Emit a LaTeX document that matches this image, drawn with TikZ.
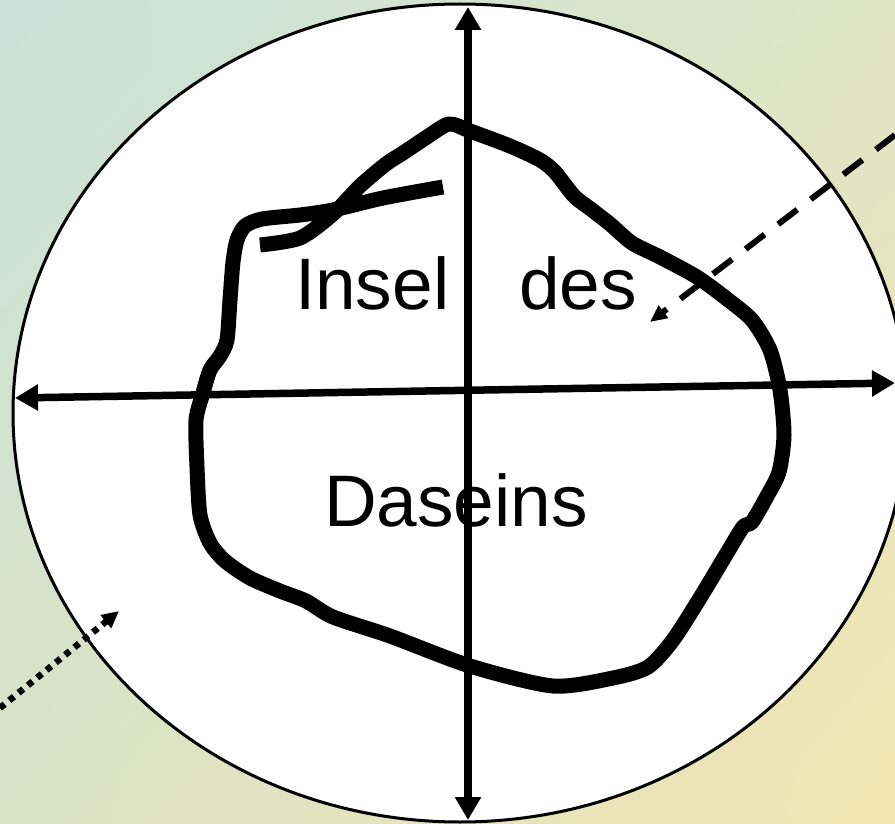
\documentclass[tikz,border=0pt]{standalone}
\usepackage{fontspec}
\setmainfont{Liberation Sans}
\usetikzlibrary{arrows.meta,shadings}

\definecolor{bgteal}{RGB}{200,226,218}
\definecolor{bgright}{RGB}{224,229,198}
\definecolor{bgleft}{RGB}{219,226,198}
\definecolor{bgsand}{RGB}{240,230,178}

\begin{document}
\begin{tikzpicture}[x=1pt,y=-1pt,
  axis/.style={draw=black,line width=7.5pt,
    {Triangle[length=23pt,width=25pt]}-{Triangle[length=23pt,width=25pt]}},
  island/.style={draw=black,line width=15pt,line join=round},
  inflow/.style={draw=black,line width=6pt,dash pattern=on 24pt off 17pt,
    -{Triangle[length=17pt,width=15pt]}},
  outflow/.style={draw=black,line width=6.5pt,dash pattern=on 6pt off 6pt,
    -{Triangle[length=17pt,width=16pt]}},
  word/.style={inner sep=0pt,anchor=base,font=\fontsize{73}{88}\selectfont}]

\useasboundingbox (0,0) rectangle (895,824);
\shade[upper left=bgteal,upper right=bgright,lower left=bgleft,lower right=bgsand]
  (0,0) rectangle (895,824);

% world circle
\draw[fill=white,line width=3pt] (460,413) ellipse [x radius=447pt,y radius=409pt];

% axes
\coordinate (top) at (468,7);
\coordinate (bottom) at (468,820);
\coordinate (west) at (15,398);
\coordinate (east) at (895,383);
\draw[axis] (top) -- (bottom);
\draw[axis] (west) -- (east);

% the island
\draw[island] plot[smooth,tension=0.45] coordinates {
  (443,187) (383,198) (333,210) (300,215) (262,219) (245,226) (237,240)
  (233,262) (230,300) (227,340) (220,356) (210,370) (203,393) (196,420)
  (197,467) (200,515) (210,543) (225,561) (250,578) (280,591) (306,601)
  (333,617) (390,636) (470,666) (553,686) (613,678) (648,667) (673,640)
  (700,598) (727,553) (743,527) (752,522) (766,498) (779,472) (784,435)
  (780,390) (770,350) (752,320) (727,299) (697,277) (660,257) (632,243)
  (610,224) (592,210) (574,196) (555,172) (540,160) (510,146) (470,131)
  (449,124) (427,137) (403,153) (386,164) (360,186) (333,214) (300,238)
  (260,245)};

\node[word] (insel) at (466,309) {Insel\hspace{70pt}des};
\node[word] (dasein) at (456,526) {Daseins};

% arrows in and out
\coordinate (inA) at (895,135);
\coordinate (inB) at (650,322);
\coordinate (outA) at (0,708);
\coordinate (outB) at (119,611);
\draw[inflow] (inA) -- (inB);
\draw[outflow] (outA) -- (outB);
\end{tikzpicture}
\end{document}
